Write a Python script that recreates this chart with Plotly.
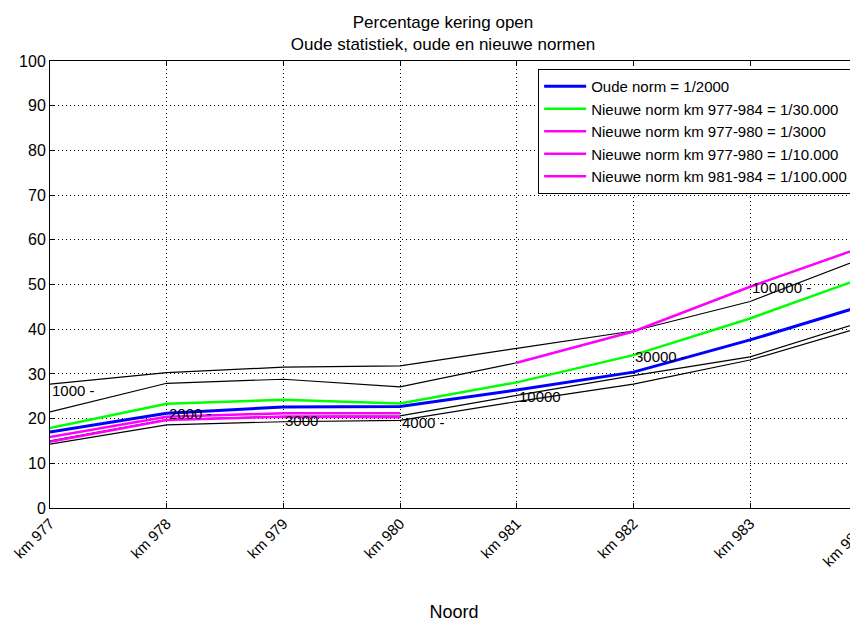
import plotly.graph_objects as go

km = ["km 977", "km 978", "km 979", "km 980", "km 981", "km 982", "km 983", "km 984"]

# gekleurde normlijnen
oude_norm_2000 = [17.0, 21.2, 22.6, 22.7, 26.4, 30.4, 37.6, 45.5]
nieuw_30000 = [17.9, 23.3, 24.2, 23.4, 28.1, 34.2, 42.4, 51.8]
nieuw_3000 = [15.9, 20.4, 21.2, 21.2]      # km 977-980
nieuw_10000 = [14.8, 19.7, 20.4, 20.3]     # km 977-980
nieuw_100000 = [32.5, 39.5, 49.5, 58.7]    # km 981-984

# zwarte lijnen oude statistiek
stat_a = [27.7, 30.3, 31.5, 31.8, 35.7, 39.6, 46.2, 56.2]
stat_b = [21.5, 27.9, 28.8, 27.1, 32.5, 39.5, 49.5, 58.7]
stat_c = [15.0, 19.8, 20.5, 20.6, 25.2, 29.6, 33.8, 42.0]
stat_d = [14.3, 18.6, 19.3, 19.6, 23.8, 27.7, 33.1, 40.8]

label_text = ["1000 -", "2000 -", "3000", "4000 -", "10000", "30000 -", "100000 -"]
label_y = [26.3, 21.2, 19.5, 19.2, 25.0, 34.0, 49.4]

x = list(range(len(km)))
x_max = 6.925

fig = go.Figure()

for s in [stat_a, stat_b, stat_c, stat_d]:
    fig.add_trace(go.Scatter(x=x, y=s, mode="lines", showlegend=False,
                             line=dict(color="black", width=1.2), hoverinfo="skip"))

fig.add_trace(go.Scatter(x=x, y=oude_norm_2000, mode="lines", name="Oude norm = 1/2000",
                         line=dict(color="#0000ff", width=3)))
fig.add_trace(go.Scatter(x=x, y=nieuw_30000, mode="lines", name="Nieuwe norm km 977-984 = 1/30.000",
                         line=dict(color="#00ff00", width=2.5)))
fig.add_trace(go.Scatter(x=x[:4], y=nieuw_3000, mode="lines", name="Nieuwe norm km 977-980 = 1/3000",
                         line=dict(color="#ff00ff", width=2.5)))
fig.add_trace(go.Scatter(x=x[:4], y=nieuw_10000, mode="lines", name="Nieuwe norm km 977-980 = 1/10.000",
                         line=dict(color="#ff00ff", width=2.5)))
fig.add_trace(go.Scatter(x=x[4:], y=nieuw_100000, mode="lines", name="Nieuwe norm km 981-984 = 1/100.000",
                         line=dict(color="#ff00ff", width=2.5)))

for i, (t, yv) in enumerate(zip(label_text, label_y)):
    fig.add_annotation(x=x[i], y=yv, text=t, showarrow=False, xanchor="left",
                       yanchor="middle", font=dict(size=15, color="black"))

# laatste tick-label valt buiten beeld
fig.add_annotation(x=x[-1] / x_max, y=0, xref="paper", yref="paper", text=km[-1],
                   showarrow=False, textangle=-45, xanchor="right", yanchor="top",
                   xshift=2, yshift=-12, font=dict(size=15, color="black"))

# pagina heeft 8px body-marge: figuur 850x614 vult het venster
fig.update_layout(
    width=850, height=614,
    margin=dict(l=42, r=0, t=53, b=114),
    paper_bgcolor="white", plot_bgcolor="white",
    font=dict(family="Liberation Sans, Arial, sans-serif", color="black", size=15),
    title=dict(text="Percentage kering open<br>Oude statistiek, oude en nieuwe normen",
               x=435 / 850, xref="container", xanchor="center", y=1 - 20 / 614, yanchor="top",
               font=dict(size=17)),
    legend=dict(x=0.994, y=0.982, xanchor="right", yanchor="top", bgcolor="white",
                bordercolor="black", borderwidth=1, font=dict(size=15), itemwidth=42),
    xaxis=dict(range=[0, x_max], tickvals=x, ticktext=km, tickangle=-45,
               ticks="inside", ticklen=5, tickcolor="black", showline=True,
               linecolor="black", mirror="ticks", showgrid=True, gridcolor="black",
               griddash="1px,3px", gridwidth=1, zeroline=False, automargin=False,
               tickfont=dict(size=15),
               title=dict(text="Noord", standoff=47, font=dict(size=18))),
    yaxis=dict(range=[0, 100], dtick=10, ticks="inside", ticklen=5, tickcolor="black",
               showline=True, linecolor="black", showgrid=True, gridcolor="black",
               griddash="1px,3px", gridwidth=1, zeroline=False, automargin=False,
               tickfont=dict(size=16)),
)

fig.write_html("out.html")
